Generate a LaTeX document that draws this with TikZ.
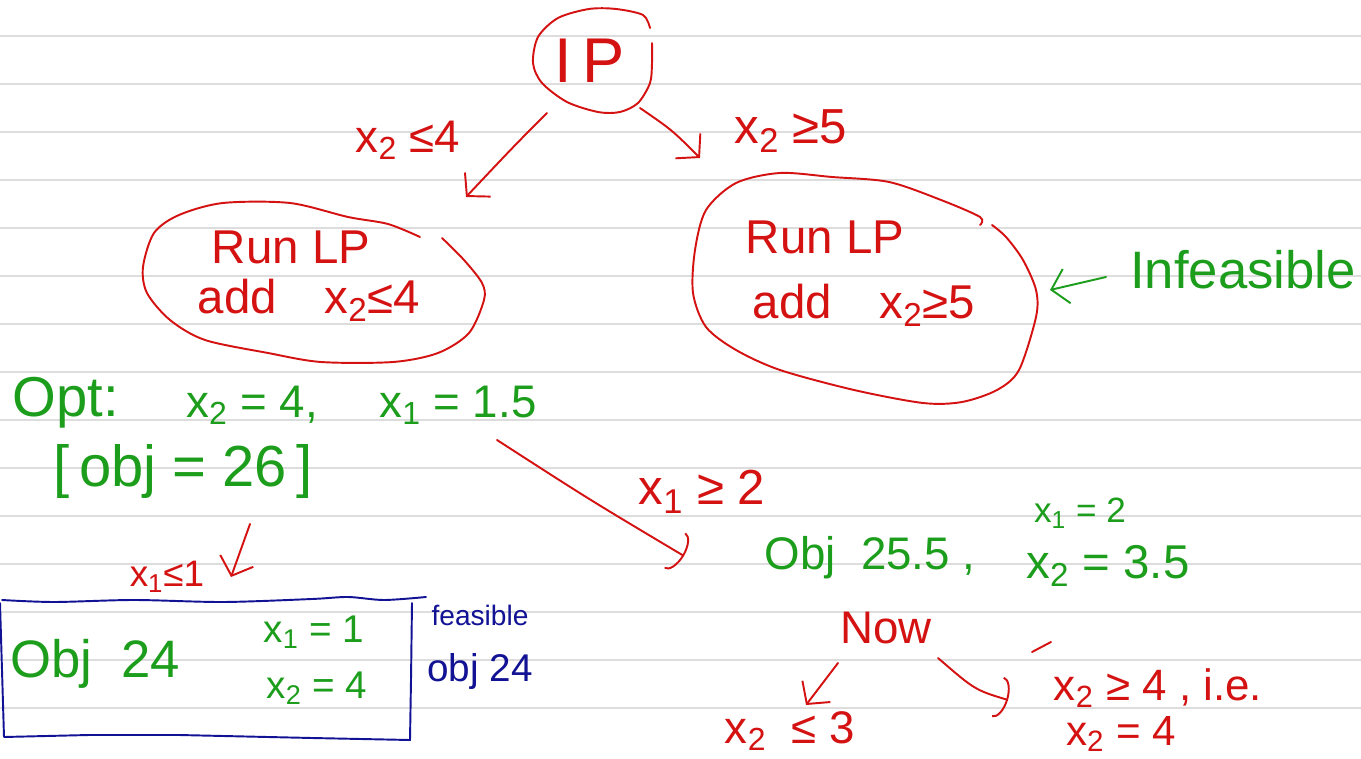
\documentclass[tikz,border=0pt]{standalone}
\usepackage{fontspec}
\setmainfont{Liberation Sans}
\usetikzlibrary{arrows.meta}

\definecolor{inkred}{RGB}{212,18,18}
\definecolor{inkgreen}{RGB}{28,158,28}
\definecolor{inkblue}{RGB}{18,18,148}
\definecolor{ruleline}{RGB}{221,221,221}

\newcommand{\fsz}[1]{\fontsize{#1}{#1}\selectfont}

\tikzset{
  pen/.style={line width=1.1pt,line cap=round,line join=round},
  redpen/.style={pen,draw=inkred},
  greenpen/.style={pen,draw=inkgreen},
  bluepen/.style={pen,draw=inkblue},
  barb/.style={-{Straight Barb[length=9pt,width=20pt]}},
  hook/.style={-{Arc Barb[length=6pt,width=24pt]}},
  rd/.style={text=inkred,inner sep=0pt},
  gr/.style={text=inkgreen,inner sep=0pt},
  bl/.style={text=inkblue,inner sep=0pt},
}

\begin{document}
\begin{tikzpicture}[x=0.02cm,y=-0.02cm]
  \path[use as bounding box,fill=white] (0,0) rectangle (1361,759);

  % ruled paper
  \foreach \y in {36,84,...,708}
    \draw[ruleline,line width=1.6pt] (0,\y) -- (1361,\y);

  % root IP
  \node[rd,font=\fsz{36}] (ip) at (590,61) {I\,P};
  \draw[redpen] plot[smooth] coordinates {(650,28) (643,15) (616,9) (589,9) (558,18) (538,37) (533,63)
    (542,83) (567,102) (598,112) (620,112) (638,103) (650,83) (652,63) (652,43)};
  \coordinate (ipL) at (547,113);
  \coordinate (ipR) at (640,108);

  % left subproblem
  \node[rd,font=\fsz{27}] (runL) at (291,247) {Run LP};
  \node[rd,font=\fsz{27}] (addL) at (309,300) {add\quad x\textsubscript{2}≤4};
  \draw[redpen] plot[smooth] coordinates {(420,237) (388,224) (348,217) (290,203) (223,203) (179,215)
    (154,233) (143,267) (147,293) (170,320) (205,340) (268,353) (321,362) (393,362) (438,353)
    (469,333) (484,300) (482,283) (464,260) (442,238)};
  \coordinate (leftTop) at (466,197);

  % right subproblem
  \node[rd,font=\fsz{27}] (runR) at (825,237) {Run LP};
  \node[rd,font=\fsz{27}] (addR) at (864,305) {add\quad x\textsubscript{2}≥5};
  \draw[redpen] plot[smooth] coordinates {(980,225) (980,217) (941,200) (889,182) (832,177) (780,173)
    (736,183) (706,210) (695,250) (693,293) (706,327) (736,350) (780,370) (854,390) (923,403)
    (962,402) (997,390) (1019,370) (1036,317) (1036,290) (1023,260) (1006,237) (992,225)};
  \coordinate (rightTop) at (700,158);

  % branch labels
  \node[rd,font=\fsz{26}] (brL) at (408,140) {x\textsubscript{2} ≤4};
  \node[rd,font=\fsz{28}] (brR) at (791,131) {x\textsubscript{2} ≥5};
  \draw[redpen,barb] (ipL) .. controls (515,145) .. (leftTop);
  \draw[redpen,barb] (ipR) .. controls (672,130) .. (rightTop);

  % infeasible note
  \node[gr,font=\fsz{30}] (infeas) at (1243,270) {Infeasible};
  \coordinate (infTip) at (1050,290);
  \draw[greenpen,barb] (1106,277) -- (infTip);

  % LP optimum of left node
  \node[gr,font=\fsz{32}] (opt) at (66,403) {Opt:};
  \node[gr,font=\fsz{26}] (optx2) at (252,405) {x\textsubscript{2} = 4,};
  \node[gr,font=\fsz{26}] (optx1) at (458,405) {x\textsubscript{1} = 1.5};
  \node[gr,font=\fsz{33}] (obj26) at (183,472) {[\,obj = 26\,]};

  % branch x1 <= 1
  \node[rd,font=\fsz{21}] (brx1L) at (167,577) {x\textsubscript{1}≤1};
  \coordinate (boxTop) at (231,577);
  \draw[redpen,barb] (250,524) -- (boxTop);

  % feasible leaf
  \draw[bluepen] plot[smooth] coordinates {(2,600) (54,602) (134,600) (223,602) (312,599) (348,597)
    (384,600) (426,597)};
  \draw[bluepen] (412,603) -- (411,680) -- (410,740) -- (312,738) -- (179,735) -- (89,735)
    -- (4,737) -- (2,670) -- (0,603);
  \node[gr,font=\fsz{30}] (obj24) at (95,664) {Obj\ \ 24};
  \node[gr,font=\fsz{22}] (leafx1) at (314,632) {x\textsubscript{1} = 1};
  \node[gr,font=\fsz{22}] (leafx2) at (317,688) {x\textsubscript{2} = 4};
  \node[bl,font=\fsz{16}] (feas) at (480,615) {feasible};
  \node[bl,font=\fsz{22}] (feasobj) at (480,672) {obj 24};

  % branch x1 >= 2
  \node[rd,font=\fsz{28}] (brx1R) at (702,492) {x\textsubscript{1} ≥ 2};
  \coordinate (optOut) at (497,440);
  \coordinate (objIn) at (684,556);
  \draw[redpen,hook] (optOut) .. controls (590,500) .. (objIn);

  % second LP solution
  \node[gr,font=\fsz{26}] (obj255) at (870,558) {Obj\ \ 25.5\ ,};
  \node[gr,font=\fsz{20}] (solx1) at (1080,513) {x\textsubscript{1} = 2};
  \node[gr,font=\fsz{27}] (solx2) at (1108,566) {x\textsubscript{2} = 3.5};

  % next branching
  \node[rd,font=\fsz{26}] (now) at (886,628) {Now};
  \draw[redpen] (1032,652) -- (1051,642);
  \node[rd,font=\fsz{26}] (brx2L) at (790,731) {x\textsubscript{2} \ ≤ 3};
  \node[rd,font=\fsz{25}] (brx2R) at (1158,688) {x\textsubscript{2} ≥ 4 , i.e.};
  \node[rd,font=\fsz{24}] (brx2Rb) at (1121,734) {x\textsubscript{2} = 4};
  \coordinate (nowL) at (838,663);
  \coordinate (nowR) at (938,658);
  \draw[redpen,barb] (nowL) -- (806,705);
  \draw[redpen,hook] (nowR) .. controls (975,690) .. (1008,700);
\end{tikzpicture}
\end{document}
